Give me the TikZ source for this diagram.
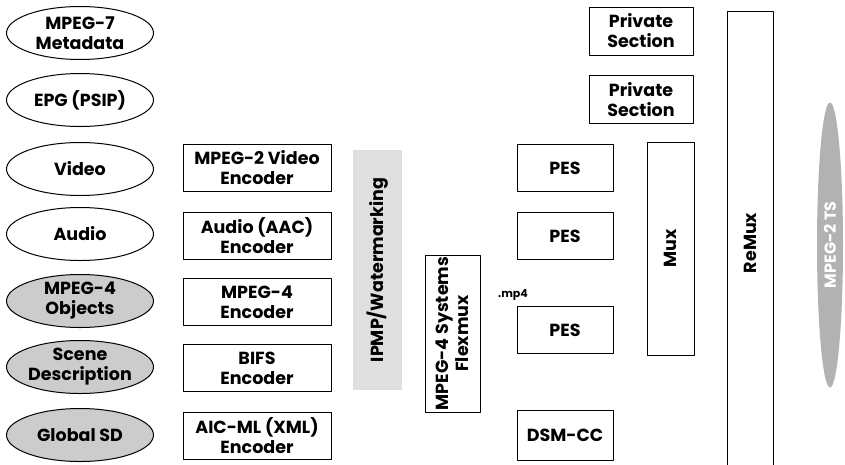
\documentclass[tikz,border=0pt]{standalone}
\usepackage{fontspec}
\setmainfont{Poppins}
\usetikzlibrary{shapes.geometric}
\begin{document}
\begin{tikzpicture}[x=1pt,y=-1pt,line join=round,font=\bfseries\fontsize{17.5}{20}\selectfont,
  src/.style={ellipse,draw,line width=1pt,minimum width=147pt,minimum height=53pt,align=center,inner sep=0pt},
  srcgray/.style={src,fill=gray!40},
  box/.style={draw,line width=1pt,minimum width=148pt,minimum height=47pt,align=center,inner sep=0pt},
  pes/.style={box,minimum width=96pt},
  tall/.style={draw,line width=1pt,rotate=90,align=center,inner sep=0pt}]
  \useasboundingbox (0,0) rectangle (845,464);
  % sources
  \node[src] (meta) at (80,33) {MPEG-7\\Metadata};
  \node[src] (epg) at (80,100) {EPG (PSIP)};
  \node[src] (video) at (80,169) {Video};
  \node[src] (audio) at (80,234) {Audio};
  \node[srcgray] (objects) at (80,301) {MPEG-4\\Objects};
  \node[srcgray] (scene) at (80,367) {Scene\\Description};
  \node[srcgray] (globalsd) at (80,435) {Global SD};
  % encoders
  \node[box] (venc) at (257,168) {MPEG-2 Video\\Encoder};
  \node[box] (aenc) at (257,236) {Audio (AAC)\\Encoder};
  \node[box] (menc) at (257,302) {MPEG-4\\Encoder};
  \node[box] (benc) at (257,368) {BIFS\\Encoder};
  \node[box] (xenc) at (257,436) {AIC-ML (XML)\\Encoder};
  % IPMP strip
  \fill[gray!25] (353,150) rectangle (402,390);
  \node[rotate=90] (ipmp) at (377.5,270) {IPMP/Watermarking};
  % flexmux
  \node[tall,minimum width=157pt,minimum height=55pt] (flex) at (452.5,333.5) {MPEG-4 Systems\\Flexmux};
  \node (mp4) at (513,295) {\fontsize{11}{12}\selectfont .mp4};
  % PES
  \node[pes] (pesa) at (565,168) {PES};
  \node[pes] (pesb) at (565,236) {PES};
  \node[pes] (pesc) at (565,330) {PES};
  \node[pes,minimum height=50pt] (dsm) at (565,435) {DSM-CC};
  % private sections
  \node[box,minimum width=104pt,minimum height=48pt] (priva) at (641,31) {Private\\Section};
  \node[box,minimum width=104pt,minimum height=48pt] (privb) at (641,99.5) {Private\\Section};
  % mux and remux
  \node[tall,minimum width=213pt,minimum height=47pt] (mux) at (670.5,248.5) {Mux};
  \node[tall,minimum width=464pt,minimum height=46pt] (remux) at (750,243) {ReMux};
  % output
  \node[ellipse,fill=gray!60,text=white,rotate=90,minimum width=285pt,minimum height=26pt,inner sep=0pt,font=\bfseries\fontsize{16}{18}\selectfont] (ts) at (830,245) {MPEG-2 TS};
\end{tikzpicture}
\end{document}
